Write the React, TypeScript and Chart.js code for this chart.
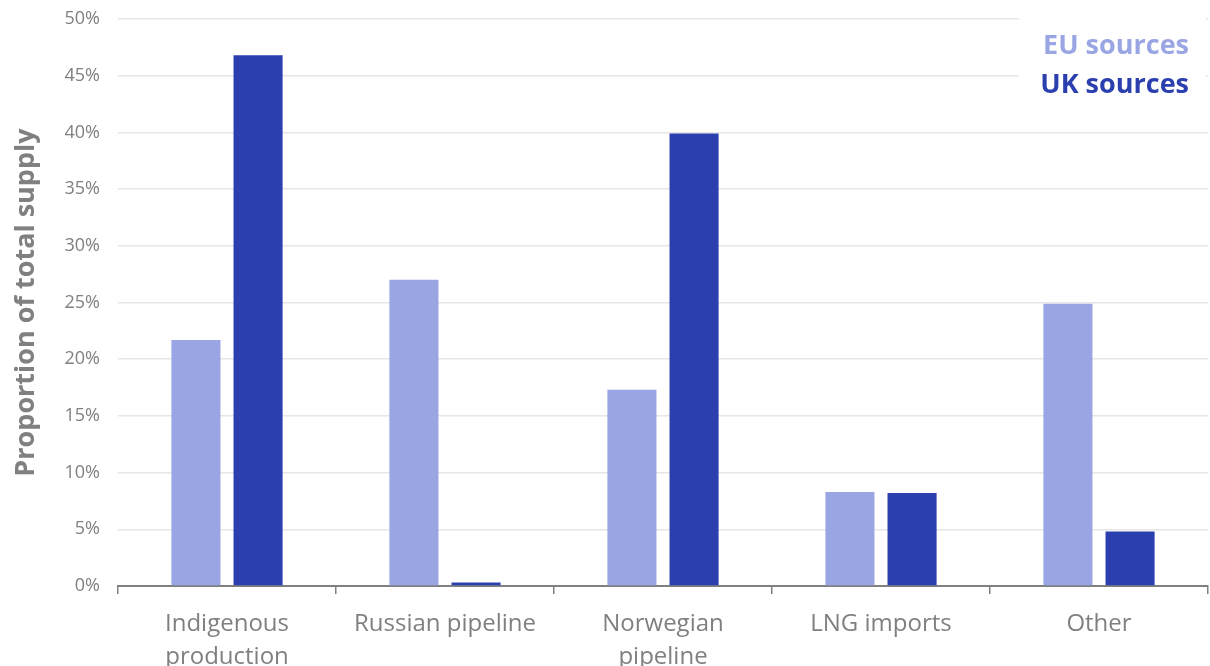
import React, { useEffect, useRef } from "react";
import { Chart, registerables } from "chart.js";

Chart.register(...registerables);

const categories: (string | string[])[] = [
  ["Indigenous", "production"],
  "Russian pipeline",
  ["Norwegian", "pipeline"],
  "LNG imports",
  "Other",
];
const euSources = [21.7, 27.0, 17.3, 8.3, 24.9];
const ukSources = [46.8, 0.3, 39.9, 8.2, 4.8];
const seriesNames = ["EU sources", "UK sources"];
const seriesColors = ["#9aa6e4", "#2b3fae"];
const yTickStep = 5;
const yMax = 50;

const FONT = "'Open Sans', sans-serif";

const legendPlugin = {
  id: "cornerLegend",
  afterDraw(chart: any) {
    const ctx = chart.ctx;
    ctx.save();
    ctx.fillStyle = "#ffffff";
    ctx.fillRect(1019, 8, 187, 94);
    ctx.font = `bold 27px ${FONT}`;
    ctx.textAlign = "right";
    ctx.textBaseline = "middle";
    seriesNames.forEach((name, i) => {
      ctx.fillStyle = seriesColors[i];
      ctx.fillText(name, 1189, 46 + i * 39);
    });
    ctx.restore();
  },
};

export default function App() {
  const ref = useRef<HTMLCanvasElement | null>(null);
  useEffect(() => {
    document.body.style.margin = "0";
    if (!ref.current) return;
    const chart = new Chart(ref.current, {
      type: "bar",
      data: {
        labels: categories,
        datasets: [
          {
            label: seriesNames[0],
            data: euSources,
            backgroundColor: seriesColors[0],
            categoryPercentage: 0.57,
            barPercentage: 0.79,
          },
          {
            label: seriesNames[1],
            data: ukSources,
            backgroundColor: seriesColors[1],
            categoryPercentage: 0.57,
            barPercentage: 0.79,
          },
        ],
      },
      options: {
        responsive: false,
        animation: false,
        layout: { padding: { top: 19, right: 2, left: 0, bottom: 0 } },
        plugins: {
          legend: { display: false },
          tooltip: { enabled: false },
        },
        scales: {
          x: {
            grid: {
              offset: true,
              drawOnChartArea: false,
              drawTicks: true,
              tickLength: 8,
              color: "#808080",
              lineWidth: 1.5,
            },
            border: { display: true, color: "#808080", width: 2 },
            ticks: {
              color: "#808080",
              font: { family: FONT, size: 24, lineHeight: 1.375 },
              padding: 14,
              maxRotation: 0,
              autoSkip: false,
            },
            afterFit(scale: any) {
              scale.height = 80;
            },
          },
          y: {
            min: 0,
            max: yMax,
            grid: {
              color: "#e6e6e6",
              lineWidth: 1.5,
              drawTicks: false,
            },
            border: { display: false },
            ticks: {
              stepSize: yTickStep,
              color: "#808080",
              font: { family: FONT, size: 18 },
              padding: 18,
              callback: (v: any) => `${v}%`,
            },
            title: {
              display: true,
              text: "Proportion of total supply",
              color: "#808080",
              font: { family: FONT, size: 27, weight: "bold" },
              padding: { top: 10, bottom: 4 },
            },
            afterFit(scale: any) {
              scale.width = 118;
              scale.paddingTop = 0;
              scale.paddingBottom = 0;
            },
          },
        },
      },
      plugins: [legendPlugin],
    });
    return () => chart.destroy();
  }, []);
  return (
    <div style={{ width: 1210, height: 666 }}>
      <canvas ref={ref} width={1210} height={666} />
    </div>
  );
}
